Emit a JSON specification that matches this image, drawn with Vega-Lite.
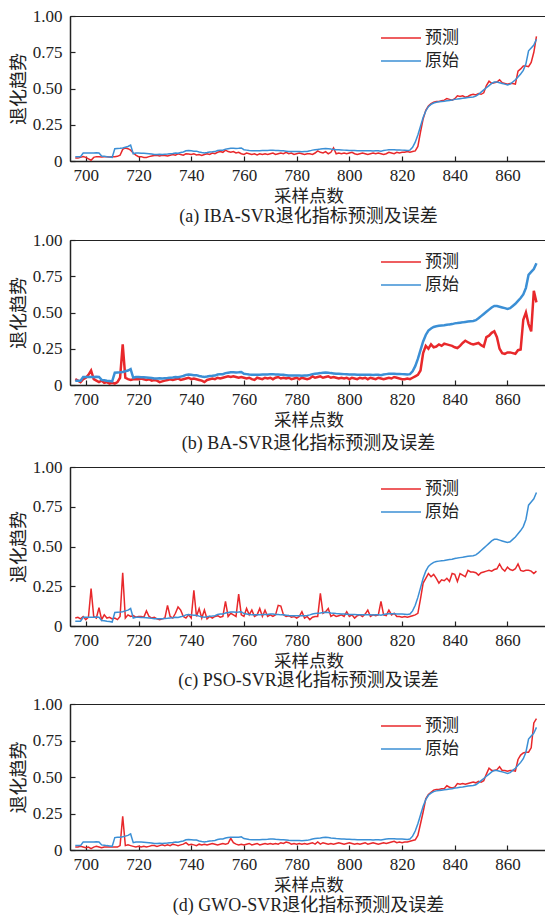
{
  "$schema": "https://vega.github.io/schema/vega-lite/v6.json",
  "padding": {"left": 9, "top": 6, "right": 0, "bottom": 0},
  "background": "white",
  "spacing": 4,
  "data": {"values": [
{"x":696,"orig":0.03,"iba":0.02,"ba":0.04,"pso":0.05,"gwo":0.02},
{"x":697,"orig":0.03,"iba":0.02,"ba":0.03,"pso":0.055,"gwo":0.02},
{"x":698,"orig":0.03,"iba":0.025,"ba":0.02,"pso":0.045,"gwo":0.025},
{"x":699,"orig":0.055,"iba":0.03,"ba":0.04,"pso":0.06,"gwo":0.02},
{"x":700,"orig":0.055,"iba":0.025,"ba":0.05,"pso":0.04,"gwo":0.015},
{"x":701,"orig":0.055,"iba":0.015,"ba":0.07,"pso":0.055,"gwo":0.02},
{"x":702,"orig":0.055,"iba":0.005,"ba":0.1,"pso":0.235,"gwo":0.01},
{"x":703,"orig":0.055,"iba":0.025,"ba":0.04,"pso":0.06,"gwo":0.02},
{"x":704,"orig":0.057,"iba":0.03,"ba":0.03,"pso":0.05,"gwo":0.025},
{"x":705,"orig":0.055,"iba":0.03,"ba":0.02,"pso":0.115,"gwo":0.02},
{"x":706,"orig":0.035,"iba":0.028,"ba":0.03,"pso":0.04,"gwo":0.015},
{"x":707,"orig":0.033,"iba":0.03,"ba":0.015,"pso":0.07,"gwo":0.02},
{"x":708,"orig":0.03,"iba":0.03,"ba":0.02,"pso":0.05,"gwo":0.02},
{"x":709,"orig":0.028,"iba":0.028,"ba":0.01,"pso":0.055,"gwo":0.02},
{"x":710,"orig":0.025,"iba":0.03,"ba":0.015,"pso":0.045,"gwo":0.02},
{"x":711,"orig":0.085,"iba":0.03,"ba":0.01,"pso":0.05,"gwo":0.02},
{"x":712,"orig":0.087,"iba":0.032,"ba":0.02,"pso":0.04,"gwo":0.02},
{"x":713,"orig":0.088,"iba":0.04,"ba":0.05,"pso":0.06,"gwo":0.03},
{"x":714,"orig":0.09,"iba":0.08,"ba":0.28,"pso":0.335,"gwo":0.23},
{"x":715,"orig":0.095,"iba":0.09,"ba":0.05,"pso":0.05,"gwo":0.03},
{"x":716,"orig":0.1,"iba":0.085,"ba":0.04,"pso":0.07,"gwo":0.035},
{"x":717,"orig":0.11,"iba":0.075,"ba":0.035,"pso":0.06,"gwo":0.03},
{"x":718,"orig":0.05,"iba":0.055,"ba":0.04,"pso":0.065,"gwo":0.025},
{"x":719,"orig":0.055,"iba":0.04,"ba":0.04,"pso":0.055,"gwo":0.02},
{"x":720,"orig":0.055,"iba":0.03,"ba":0.04,"pso":0.06,"gwo":0.025},
{"x":721,"orig":0.054,"iba":0.03,"ba":0.045,"pso":0.06,"gwo":0.02},
{"x":722,"orig":0.053,"iba":0.025,"ba":0.04,"pso":0.055,"gwo":0.025},
{"x":723,"orig":0.052,"iba":0.025,"ba":0.035,"pso":0.095,"gwo":0.02},
{"x":724,"orig":0.05,"iba":0.03,"ba":0.04,"pso":0.06,"gwo":0.025},
{"x":725,"orig":0.048,"iba":0.035,"ba":0.03,"pso":0.05,"gwo":0.03},
{"x":726,"orig":0.045,"iba":0.038,"ba":0.035,"pso":0.055,"gwo":0.03},
{"x":727,"orig":0.045,"iba":0.04,"ba":0.03,"pso":0.045,"gwo":0.025},
{"x":728,"orig":0.046,"iba":0.035,"ba":0.02,"pso":0.04,"gwo":0.03},
{"x":729,"orig":0.045,"iba":0.04,"ba":0.025,"pso":0.045,"gwo":0.035},
{"x":730,"orig":0.047,"iba":0.038,"ba":0.03,"pso":0.05,"gwo":0.03},
{"x":731,"orig":0.048,"iba":0.035,"ba":0.035,"pso":0.13,"gwo":0.035},
{"x":732,"orig":0.05,"iba":0.04,"ba":0.04,"pso":0.06,"gwo":0.03},
{"x":733,"orig":0.052,"iba":0.045,"ba":0.035,"pso":0.05,"gwo":0.04},
{"x":734,"orig":0.055,"iba":0.04,"ba":0.04,"pso":0.08,"gwo":0.035},
{"x":735,"orig":0.053,"iba":0.05,"ba":0.045,"pso":0.12,"gwo":0.03},
{"x":736,"orig":0.058,"iba":0.045,"ba":0.035,"pso":0.1,"gwo":0.035},
{"x":737,"orig":0.062,"iba":0.04,"ba":0.04,"pso":0.06,"gwo":0.04},
{"x":738,"orig":0.07,"iba":0.05,"ba":0.045,"pso":0.05,"gwo":0.05},
{"x":739,"orig":0.072,"iba":0.048,"ba":0.05,"pso":0.07,"gwo":0.035},
{"x":740,"orig":0.07,"iba":0.045,"ba":0.04,"pso":0.05,"gwo":0.04},
{"x":741,"orig":0.068,"iba":0.05,"ba":0.045,"pso":0.225,"gwo":0.035},
{"x":742,"orig":0.068,"iba":0.042,"ba":0.04,"pso":0.06,"gwo":0.03},
{"x":743,"orig":0.062,"iba":0.045,"ba":0.035,"pso":0.11,"gwo":0.04},
{"x":744,"orig":0.058,"iba":0.038,"ba":0.03,"pso":0.05,"gwo":0.035},
{"x":745,"orig":0.055,"iba":0.045,"ba":0.02,"pso":0.1,"gwo":0.04},
{"x":746,"orig":0.058,"iba":0.05,"ba":0.035,"pso":0.045,"gwo":0.035},
{"x":747,"orig":0.062,"iba":0.045,"ba":0.04,"pso":0.06,"gwo":0.04},
{"x":748,"orig":0.063,"iba":0.055,"ba":0.045,"pso":0.05,"gwo":0.045},
{"x":749,"orig":0.065,"iba":0.05,"ba":0.04,"pso":0.06,"gwo":0.04},
{"x":750,"orig":0.072,"iba":0.06,"ba":0.05,"pso":0.065,"gwo":0.035},
{"x":751,"orig":0.075,"iba":0.065,"ba":0.045,"pso":0.055,"gwo":0.04},
{"x":752,"orig":0.075,"iba":0.06,"ba":0.05,"pso":0.06,"gwo":0.045},
{"x":753,"orig":0.082,"iba":0.075,"ba":0.055,"pso":0.155,"gwo":0.04},
{"x":754,"orig":0.085,"iba":0.065,"ba":0.06,"pso":0.06,"gwo":0.045},
{"x":755,"orig":0.088,"iba":0.06,"ba":0.055,"pso":0.08,"gwo":0.08},
{"x":756,"orig":0.088,"iba":0.065,"ba":0.06,"pso":0.07,"gwo":0.05},
{"x":757,"orig":0.087,"iba":0.055,"ba":0.055,"pso":0.06,"gwo":0.04},
{"x":758,"orig":0.088,"iba":0.06,"ba":0.05,"pso":0.2,"gwo":0.035},
{"x":759,"orig":0.09,"iba":0.05,"ba":0.055,"pso":0.07,"gwo":0.04},
{"x":760,"orig":0.078,"iba":0.045,"ba":0.05,"pso":0.06,"gwo":0.035},
{"x":761,"orig":0.075,"iba":0.055,"ba":0.045,"pso":0.11,"gwo":0.04},
{"x":762,"orig":0.072,"iba":0.05,"ba":0.05,"pso":0.07,"gwo":0.045},
{"x":763,"orig":0.07,"iba":0.045,"ba":0.04,"pso":0.1,"gwo":0.035},
{"x":764,"orig":0.07,"iba":0.05,"ba":0.035,"pso":0.06,"gwo":0.04},
{"x":765,"orig":0.07,"iba":0.042,"ba":0.05,"pso":0.07,"gwo":0.045},
{"x":766,"orig":0.07,"iba":0.05,"ba":0.045,"pso":0.11,"gwo":0.035},
{"x":767,"orig":0.072,"iba":0.045,"ba":0.04,"pso":0.06,"gwo":0.04},
{"x":768,"orig":0.072,"iba":0.05,"ba":0.05,"pso":0.1,"gwo":0.045},
{"x":769,"orig":0.073,"iba":0.045,"ba":0.045,"pso":0.06,"gwo":0.04},
{"x":770,"orig":0.075,"iba":0.05,"ba":0.05,"pso":0.07,"gwo":0.045},
{"x":771,"orig":0.075,"iba":0.055,"ba":0.04,"pso":0.06,"gwo":0.04},
{"x":772,"orig":0.073,"iba":0.045,"ba":0.05,"pso":0.07,"gwo":0.045},
{"x":773,"orig":0.072,"iba":0.05,"ba":0.055,"pso":0.13,"gwo":0.04},
{"x":774,"orig":0.07,"iba":0.055,"ba":0.045,"pso":0.125,"gwo":0.05},
{"x":775,"orig":0.07,"iba":0.05,"ba":0.05,"pso":0.07,"gwo":0.045},
{"x":776,"orig":0.068,"iba":0.06,"ba":0.045,"pso":0.06,"gwo":0.055},
{"x":777,"orig":0.066,"iba":0.05,"ba":0.05,"pso":0.065,"gwo":0.05},
{"x":778,"orig":0.065,"iba":0.055,"ba":0.04,"pso":0.055,"gwo":0.04},
{"x":779,"orig":0.065,"iba":0.045,"ba":0.045,"pso":0.06,"gwo":0.045},
{"x":780,"orig":0.065,"iba":0.05,"ba":0.05,"pso":0.05,"gwo":0.04},
{"x":781,"orig":0.065,"iba":0.055,"ba":0.04,"pso":0.06,"gwo":0.045},
{"x":782,"orig":0.064,"iba":0.05,"ba":0.05,"pso":0.09,"gwo":0.04},
{"x":783,"orig":0.065,"iba":0.045,"ba":0.045,"pso":0.05,"gwo":0.045},
{"x":784,"orig":0.066,"iba":0.05,"ba":0.04,"pso":0.06,"gwo":0.04},
{"x":785,"orig":0.07,"iba":0.05,"ba":0.045,"pso":0.04,"gwo":0.045},
{"x":786,"orig":0.075,"iba":0.045,"ba":0.06,"pso":0.055,"gwo":0.05},
{"x":787,"orig":0.078,"iba":0.055,"ba":0.05,"pso":0.06,"gwo":0.04},
{"x":788,"orig":0.08,"iba":0.07,"ba":0.055,"pso":0.06,"gwo":0.055},
{"x":789,"orig":0.082,"iba":0.06,"ba":0.06,"pso":0.205,"gwo":0.04},
{"x":790,"orig":0.085,"iba":0.055,"ba":0.05,"pso":0.08,"gwo":0.05},
{"x":791,"orig":0.087,"iba":0.065,"ba":0.055,"pso":0.09,"gwo":0.045},
{"x":792,"orig":0.085,"iba":0.05,"ba":0.06,"pso":0.11,"gwo":0.04},
{"x":793,"orig":0.082,"iba":0.06,"ba":0.05,"pso":0.06,"gwo":0.045},
{"x":794,"orig":0.08,"iba":0.09,"ba":0.055,"pso":0.07,"gwo":0.04},
{"x":795,"orig":0.078,"iba":0.05,"ba":0.05,"pso":0.06,"gwo":0.045},
{"x":796,"orig":0.077,"iba":0.055,"ba":0.045,"pso":0.065,"gwo":0.05},
{"x":797,"orig":0.076,"iba":0.05,"ba":0.05,"pso":0.07,"gwo":0.045},
{"x":798,"orig":0.075,"iba":0.055,"ba":0.045,"pso":0.06,"gwo":0.04},
{"x":799,"orig":0.074,"iba":0.05,"ba":0.05,"pso":0.09,"gwo":0.045},
{"x":800,"orig":0.073,"iba":0.055,"ba":0.04,"pso":0.06,"gwo":0.05},
{"x":801,"orig":0.072,"iba":0.06,"ba":0.05,"pso":0.07,"gwo":0.045},
{"x":802,"orig":0.072,"iba":0.05,"ba":0.045,"pso":0.05,"gwo":0.04},
{"x":803,"orig":0.071,"iba":0.045,"ba":0.04,"pso":0.065,"gwo":0.045},
{"x":804,"orig":0.07,"iba":0.05,"ba":0.05,"pso":0.07,"gwo":0.04},
{"x":805,"orig":0.07,"iba":0.055,"ba":0.045,"pso":0.06,"gwo":0.045},
{"x":806,"orig":0.07,"iba":0.05,"ba":0.05,"pso":0.075,"gwo":0.05},
{"x":807,"orig":0.07,"iba":0.045,"ba":0.04,"pso":0.1,"gwo":0.04},
{"x":808,"orig":0.07,"iba":0.05,"ba":0.05,"pso":0.06,"gwo":0.045},
{"x":809,"orig":0.069,"iba":0.055,"ba":0.045,"pso":0.07,"gwo":0.05},
{"x":810,"orig":0.07,"iba":0.05,"ba":0.04,"pso":0.065,"gwo":0.045},
{"x":811,"orig":0.07,"iba":0.055,"ba":0.05,"pso":0.07,"gwo":0.04},
{"x":812,"orig":0.068,"iba":0.05,"ba":0.045,"pso":0.155,"gwo":0.045},
{"x":813,"orig":0.072,"iba":0.045,"ba":0.04,"pso":0.07,"gwo":0.05},
{"x":814,"orig":0.075,"iba":0.05,"ba":0.045,"pso":0.065,"gwo":0.045},
{"x":815,"orig":0.077,"iba":0.06,"ba":0.05,"pso":0.1,"gwo":0.05},
{"x":816,"orig":0.077,"iba":0.055,"ba":0.045,"pso":0.07,"gwo":0.055},
{"x":817,"orig":0.077,"iba":0.05,"ba":0.055,"pso":0.08,"gwo":0.06},
{"x":818,"orig":0.076,"iba":0.06,"ba":0.05,"pso":0.06,"gwo":0.05},
{"x":819,"orig":0.076,"iba":0.055,"ba":0.045,"pso":0.06,"gwo":0.055},
{"x":820,"orig":0.075,"iba":0.06,"ba":0.04,"pso":0.055,"gwo":0.05},
{"x":821,"orig":0.074,"iba":0.06,"ba":0.04,"pso":0.06,"gwo":0.055},
{"x":822,"orig":0.072,"iba":0.065,"ba":0.045,"pso":0.055,"gwo":0.055},
{"x":823,"orig":0.075,"iba":0.06,"ba":0.04,"pso":0.06,"gwo":0.06},
{"x":824,"orig":0.095,"iba":0.065,"ba":0.05,"pso":0.065,"gwo":0.065},
{"x":825,"orig":0.13,"iba":0.07,"ba":0.06,"pso":0.07,"gwo":0.07},
{"x":826,"orig":0.18,"iba":0.1,"ba":0.07,"pso":0.08,"gwo":0.1},
{"x":827,"orig":0.24,"iba":0.2,"ba":0.1,"pso":0.17,"gwo":0.18},
{"x":828,"orig":0.3,"iba":0.29,"ba":0.22,"pso":0.27,"gwo":0.26},
{"x":829,"orig":0.345,"iba":0.35,"ba":0.27,"pso":0.3,"gwo":0.35},
{"x":830,"orig":0.375,"iba":0.38,"ba":0.25,"pso":0.33,"gwo":0.38},
{"x":831,"orig":0.39,"iba":0.395,"ba":0.28,"pso":0.31,"gwo":0.395},
{"x":832,"orig":0.4,"iba":0.405,"ba":0.26,"pso":0.325,"gwo":0.41},
{"x":833,"orig":0.405,"iba":0.41,"ba":0.265,"pso":0.3,"gwo":0.415},
{"x":834,"orig":0.408,"iba":0.41,"ba":0.28,"pso":0.27,"gwo":0.415},
{"x":835,"orig":0.41,"iba":0.415,"ba":0.27,"pso":0.29,"gwo":0.42},
{"x":836,"orig":0.412,"iba":0.42,"ba":0.285,"pso":0.285,"gwo":0.42},
{"x":837,"orig":0.415,"iba":0.43,"ba":0.28,"pso":0.3,"gwo":0.44},
{"x":838,"orig":0.418,"iba":0.425,"ba":0.275,"pso":0.28,"gwo":0.43},
{"x":839,"orig":0.42,"iba":0.42,"ba":0.27,"pso":0.33,"gwo":0.425},
{"x":840,"orig":0.425,"iba":0.43,"ba":0.26,"pso":0.325,"gwo":0.43},
{"x":841,"orig":0.427,"iba":0.45,"ba":0.255,"pso":0.28,"gwo":0.455},
{"x":842,"orig":0.43,"iba":0.445,"ba":0.27,"pso":0.33,"gwo":0.45},
{"x":843,"orig":0.432,"iba":0.45,"ba":0.29,"pso":0.32,"gwo":0.455},
{"x":844,"orig":0.435,"iba":0.44,"ba":0.305,"pso":0.31,"gwo":0.45},
{"x":845,"orig":0.438,"iba":0.445,"ba":0.295,"pso":0.35,"gwo":0.455},
{"x":846,"orig":0.44,"iba":0.455,"ba":0.285,"pso":0.34,"gwo":0.46},
{"x":847,"orig":0.442,"iba":0.46,"ba":0.28,"pso":0.34,"gwo":0.465},
{"x":848,"orig":0.447,"iba":0.455,"ba":0.285,"pso":0.335,"gwo":0.46},
{"x":849,"orig":0.46,"iba":0.465,"ba":0.29,"pso":0.32,"gwo":0.47},
{"x":850,"orig":0.475,"iba":0.46,"ba":0.275,"pso":0.335,"gwo":0.465},
{"x":851,"orig":0.49,"iba":0.47,"ba":0.265,"pso":0.34,"gwo":0.475},
{"x":852,"orig":0.505,"iba":0.52,"ba":0.33,"pso":0.345,"gwo":0.52},
{"x":853,"orig":0.52,"iba":0.55,"ba":0.34,"pso":0.35,"gwo":0.56},
{"x":854,"orig":0.535,"iba":0.535,"ba":0.36,"pso":0.345,"gwo":0.545},
{"x":855,"orig":0.545,"iba":0.54,"ba":0.37,"pso":0.355,"gwo":0.545},
{"x":856,"orig":0.545,"iba":0.545,"ba":0.33,"pso":0.36,"gwo":0.55},
{"x":857,"orig":0.54,"iba":0.56,"ba":0.25,"pso":0.39,"gwo":0.57},
{"x":858,"orig":0.535,"iba":0.54,"ba":0.22,"pso":0.36,"gwo":0.545},
{"x":859,"orig":0.53,"iba":0.535,"ba":0.215,"pso":0.345,"gwo":0.545},
{"x":860,"orig":0.525,"iba":0.53,"ba":0.225,"pso":0.37,"gwo":0.54},
{"x":861,"orig":0.53,"iba":0.535,"ba":0.225,"pso":0.355,"gwo":0.545},
{"x":862,"orig":0.545,"iba":0.535,"ba":0.22,"pso":0.35,"gwo":0.545},
{"x":863,"orig":0.56,"iba":0.53,"ba":0.215,"pso":0.36,"gwo":0.54},
{"x":864,"orig":0.58,"iba":0.62,"ba":0.24,"pso":0.39,"gwo":0.62},
{"x":865,"orig":0.6,"iba":0.635,"ba":0.245,"pso":0.35,"gwo":0.65},
{"x":866,"orig":0.625,"iba":0.655,"ba":0.45,"pso":0.345,"gwo":0.665},
{"x":867,"orig":0.67,"iba":0.655,"ba":0.5,"pso":0.35,"gwo":0.67},
{"x":868,"orig":0.76,"iba":0.65,"ba":0.42,"pso":0.35,"gwo":0.67},
{"x":869,"orig":0.78,"iba":0.68,"ba":0.37,"pso":0.345,"gwo":0.7},
{"x":870,"orig":0.8,"iba":0.75,"ba":0.65,"pso":0.33,"gwo":0.87},
{"x":871,"orig":0.84,"iba":0.86,"ba":0.57,"pso":0.345,"gwo":0.9}
  ]},
  "resolve": {"scale": {"color": "independent", "x": "independent", "y": "independent"}, "legend": {"color": "independent"}},
  "vconcat": [
    {
      "width": 477, "height": 145,
      "title": {"text": "(a) IBA-SVR退化指标预测及误差", "orient": "bottom", "offset": 3},
      "layer": [
        {"mark": {"type": "line", "strokeWidth": 1.5},
         "encoding": {
           "x": {"field": "x", "type": "quantitative", "scale": {"domain": [694, 875], "nice": false, "zero": false}, "axis": {"title": "采样点数", "values": [700, 720, 740, 760, 780, 800, 820, 840, 860]}},
           "y": {"field": "iba", "type": "quantitative", "scale": {"domain": [0, 1], "nice": false}, "axis": {"title": "退化趋势", "values": [0, 0.25, 0.5, 0.75, 1], "labelExpr": "datum.value == 0 ? '0' : format(datum.value, '.2f')"}},
           "color": {"datum": "预测", "type": "nominal", "scale": {"domain": ["预测", "原始"], "range": ["#e8282b", "#3b8fd5"]}, "legend": {"title": null}}
         }},
        {"mark": {"type": "line", "strokeWidth": 1.5},
         "encoding": {
           "x": {"field": "x", "type": "quantitative", "axis": {"title": "采样点数", "values": [700, 720, 740, 760, 780, 800, 820, 840, 860]}},
           "y": {"field": "orig", "type": "quantitative", "axis": {"title": "退化趋势", "values": [0, 0.25, 0.5, 0.75, 1], "labelExpr": "datum.value == 0 ? '0' : format(datum.value, '.2f')"}},
           "color": {"datum": "原始", "type": "nominal"}
         }}
      ]
    },
    {
      "width": 477, "height": 145,
      "title": {"text": "(b) BA-SVR退化指标预测及误差", "orient": "bottom", "offset": 6},
      "layer": [
        {"mark": {"type": "line", "strokeWidth": 2.5},
         "encoding": {
           "x": {"field": "x", "type": "quantitative", "scale": {"domain": [694, 875], "nice": false, "zero": false}, "axis": {"title": "采样点数", "values": [700, 720, 740, 760, 780, 800, 820, 840, 860]}},
           "y": {"field": "ba", "type": "quantitative", "scale": {"domain": [0, 1], "nice": false}, "axis": {"title": "退化趋势", "values": [0, 0.25, 0.5, 0.75, 1], "labelExpr": "datum.value == 0 ? '0' : format(datum.value, '.2f')"}},
           "color": {"datum": "预测", "type": "nominal", "scale": {"domain": ["预测", "原始"], "range": ["#e8282b", "#3b8fd5"]}, "legend": {"title": null}}
         }},
        {"mark": {"type": "line", "strokeWidth": 2.5},
         "encoding": {
           "x": {"field": "x", "type": "quantitative", "axis": {"title": "采样点数", "values": [700, 720, 740, 760, 780, 800, 820, 840, 860]}},
           "y": {"field": "orig", "type": "quantitative", "axis": {"title": "退化趋势", "values": [0, 0.25, 0.5, 0.75, 1], "labelExpr": "datum.value == 0 ? '0' : format(datum.value, '.2f')"}},
           "color": {"datum": "原始", "type": "nominal"}
         }}
      ]
    },
    {
      "width": 477, "height": 159,
      "title": {"text": "(c) PSO-SVR退化指标预测及误差", "orient": "bottom", "offset": 2},
      "layer": [
        {"mark": {"type": "line", "strokeWidth": 1.5},
         "encoding": {
           "x": {"field": "x", "type": "quantitative", "scale": {"domain": [694, 875], "nice": false, "zero": false}, "axis": {"title": "采样点数", "values": [700, 720, 740, 760, 780, 800, 820, 840, 860]}},
           "y": {"field": "pso", "type": "quantitative", "scale": {"domain": [0, 1], "nice": false}, "axis": {"title": "退化趋势", "values": [0, 0.25, 0.5, 0.75, 1], "labelExpr": "datum.value == 0 ? '0' : format(datum.value, '.2f')"}},
           "color": {"datum": "预测", "type": "nominal", "scale": {"domain": ["预测", "原始"], "range": ["#e8282b", "#3b8fd5"]}, "legend": {"title": null}}
         }},
        {"mark": {"type": "line", "strokeWidth": 1.5},
         "encoding": {
           "x": {"field": "x", "type": "quantitative", "axis": {"title": "采样点数", "values": [700, 720, 740, 760, 780, 800, 820, 840, 860]}},
           "y": {"field": "orig", "type": "quantitative", "axis": {"title": "退化趋势", "values": [0, 0.25, 0.5, 0.75, 1], "labelExpr": "datum.value == 0 ? '0' : format(datum.value, '.2f')"}},
           "color": {"datum": "原始", "type": "nominal"}
         }}
      ]
    },
    {
      "width": 477, "height": 146,
      "title": {"text": "(d) GWO-SVR退化指标预测及误差", "orient": "bottom", "offset": 3},
      "layer": [
        {"mark": {"type": "line", "strokeWidth": 1.5},
         "encoding": {
           "x": {"field": "x", "type": "quantitative", "scale": {"domain": [694, 875], "nice": false, "zero": false}, "axis": {"title": "采样点数", "values": [700, 720, 740, 760, 780, 800, 820, 840, 860]}},
           "y": {"field": "gwo", "type": "quantitative", "scale": {"domain": [0, 1], "nice": false}, "axis": {"title": "退化趋势", "values": [0, 0.25, 0.5, 0.75, 1], "labelExpr": "datum.value == 0 ? '0' : format(datum.value, '.2f')"}},
           "color": {"datum": "预测", "type": "nominal", "scale": {"domain": ["预测", "原始"], "range": ["#e8282b", "#3b8fd5"]}, "legend": {"title": null}}
         }},
        {"mark": {"type": "line", "strokeWidth": 1.5},
         "encoding": {
           "x": {"field": "x", "type": "quantitative", "axis": {"title": "采样点数", "values": [700, 720, 740, 760, 780, 800, 820, 840, 860]}},
           "y": {"field": "orig", "type": "quantitative", "axis": {"title": "退化趋势", "values": [0, 0.25, 0.5, 0.75, 1], "labelExpr": "datum.value == 0 ? '0' : format(datum.value, '.2f')"}},
           "color": {"datum": "原始", "type": "nominal"}
         }}
      ]
    }
  ],
  "config": {
    "view": {"stroke": "#222222", "strokeWidth": 1},
    "axis": {
      "grid": false,
      "domainColor": "#222222", "domainWidth": 1.5,
      "tickColor": "#222222", "tickSize": -5, "tickWidth": 1.2,
      "labelFont": "Liberation Serif", "labelFontSize": 17, "labelColor": "#222222", "labelFlush": false, "labelOverlap": false,
      "titleFont": "Noto Sans CJK SC", "titleFontSize": 18, "titleFontWeight": "normal", "titleColor": "#222222"
    },
    "axisX": {"labelPadding": 11, "titlePadding": 4, "titleFontSize": 17.5},
    "axisY": {"labelPadding": 13, "titlePadding": 4},
    "title": {"font": "Liberation Serif, Noto Sans CJK SC", "fontSize": 18, "fontWeight": "normal", "color": "#222222"},
    "legend": {
      "orient": "none", "legendX": 310, "legendY": 13, "padding": 0,
      "symbolType": "stroke", "symbolSize": 1600, "symbolStrokeWidth": 1.5,
      "labelFont": "Noto Sans CJK SC", "labelFontSize": 17, "labelColor": "#222222",
      "labelOffset": 3, "rowPadding": 5, "clipHeight": 18
    }
  }
}
